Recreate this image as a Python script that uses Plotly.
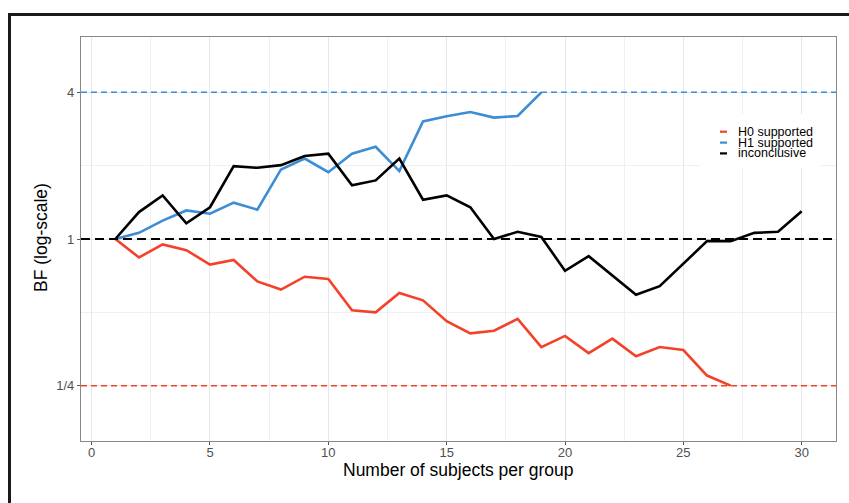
import plotly.graph_objects as go

# Sequential Bayes factor traces, one value per group size n
n_inconclusive = list(range(1, 31))
bf_inconclusive = [1.00, 1.29, 1.51, 1.16, 1.35, 1.99, 1.96, 2.01, 2.19, 2.24,
                   1.66, 1.74, 2.14, 1.45, 1.51, 1.35, 1.00, 1.07, 1.02, 0.74,
                   0.85, 0.71, 0.59, 0.64, 0.79, 0.98, 0.98, 1.06, 1.07, 1.30]

n_h1 = list(range(1, 20))
bf_h1 = [1.00, 1.06, 1.19, 1.31, 1.27, 1.41, 1.32, 1.93, 2.14, 1.88,
         2.24, 2.39, 1.90, 3.04, 3.19, 3.32, 3.15, 3.20, 4.00]

n_h0 = list(range(1, 28))
bf_h0 = [1.00, 0.84, 0.95, 0.90, 0.785, 0.82, 0.67, 0.62, 0.70, 0.685,
         0.51, 0.50, 0.60, 0.56, 0.46, 0.41, 0.42, 0.47, 0.36, 0.40,
         0.34, 0.39, 0.33, 0.36, 0.35, 0.275, 0.25]

# Decision thresholds and axis labelling
threshold_h1 = 4
threshold_none = 1
threshold_h0 = 0.25
y_tickvals = [0.25, 1, 4]
y_ticktext = ["1/4", "1", "4"]
x_tickvals = [0, 5, 10, 15, 20, 25, 30]

legend_labels = ["H0 supported", "H1 supported", "inconclusive"]

RED = "#F4412A"
BLUE = "#3D8DD5"
BLACK = "#000000"
FONT = "Liberation Sans, Arial"

W, H = 849, 503
ML, MR, MT, MB = 81, 13, 37, 62
PW, PH = W - ML - MR, H - MT - MB


def px_x(px):
    return (px - ML) / PW


def px_y(py):
    return (H - MB - py) / PH


fig = go.Figure()
for xs, ys, col in [(n_h0, bf_h0, RED), (n_h1, bf_h1, BLUE),
                    (n_inconclusive, bf_inconclusive, BLACK)]:
    fig.add_trace(go.Scatter(x=xs, y=ys, mode="lines",
                             line=dict(color=col, width=2.6),
                             showlegend=False, hoverinfo="skip"))

# Threshold lines across the full panel
for yv, col, w, dash in [(threshold_h1, BLUE, 1.5, "6px,4px"),
                         (threshold_none, BLACK, 2.2, "9px,5px"),
                         (threshold_h0, RED, 1.5, "6px,4px")]:
    fig.add_shape(type="line", xref="paper", yref="y", x0=0, x1=1,
                  y0=yv, y1=yv, line=dict(color=col, width=w, dash=dash),
                  layer="above")

# Legend box inside the panel, with short keys and labels
fig.add_shape(type="rect", xref="paper", yref="paper",
              x0=px_x(700), x1=px_x(821), y0=px_y(168), y1=px_y(114),
              fillcolor="white", line=dict(width=0), layer="above")
row_y = [131.7, 142.6, 153.4]
for label, col, ry in zip(legend_labels, [RED, BLUE, BLACK], row_y):
    fig.add_shape(type="line", xref="paper", yref="paper",
                  x0=px_x(720), x1=px_x(727), y0=px_y(ry), y1=px_y(ry),
                  line=dict(color=col, width=2.2), layer="above")
    fig.add_annotation(x=px_x(736), y=px_y(ry), xref="paper", yref="paper",
                       text=label, showarrow=False, xanchor="left",
                       yanchor="middle",
                       font=dict(family=FONT, size=12.5, color="#000000"))

# Axis titles
fig.add_annotation(x=px_x(41), y=px_y(238), xref="paper", yref="paper",
                   text="BF (log-scale)", showarrow=False, textangle=-90,
                   xanchor="center", yanchor="middle",
                   font=dict(family=FONT, size=17.5, color="#000000"))
fig.add_annotation(x=0.5, y=px_y(470), xref="paper", yref="paper",
                   text="Number of subjects per group", showarrow=False,
                   xanchor="center", yanchor="middle",
                   font=dict(family=FONT, size=17.5, color="#000000"))

# Outer frame along the top and left edges
fig.add_shape(type="line", xref="paper", yref="paper",
              x0=px_x(9.5), x1=px_x(W + 5), y0=px_y(14.5), y1=px_y(14.5),
              line=dict(color="#1a1a1a", width=3), layer="above")
fig.add_shape(type="line", xref="paper", yref="paper",
              x0=px_x(9.5), x1=px_x(9.5), y0=px_y(13), y1=px_y(H + 5),
              line=dict(color="#1a1a1a", width=3), layer="above")

axis_common = dict(showline=True, linecolor="#888888", linewidth=1.2,
                   mirror=True, ticks="outside", ticklen=3, tickwidth=1,
                   tickcolor="#555555", gridcolor="#E4E7EB", gridwidth=1,
                   zeroline=False,
                   tickfont=dict(family=FONT, size=13, color="#505050"))

fig.update_xaxes(range=[-0.45, 31.45], tickvals=x_tickvals,
                 ticklabelstandoff=-4,
                 minor=dict(dtick=2.5, tick0=0, showgrid=True,
                            gridcolor="#EFF0F3", gridwidth=1, ticklen=0),
                 **axis_common)
fig.update_yaxes(type="log", range=[-0.8294, 0.8294], tickvals=y_tickvals,
                 ticktext=y_ticktext,
                 minor=dict(tickvals=[0.5, 2], showgrid=True,
                            gridcolor="#EFF0F3", gridwidth=1, ticklen=0),
                 **axis_common)

fig.update_layout(width=W, height=H, margin=dict(l=ML, r=MR, t=MT, b=MB),
                  paper_bgcolor="white", plot_bgcolor="white",
                  showlegend=False)

fig.write_html("out.html")
